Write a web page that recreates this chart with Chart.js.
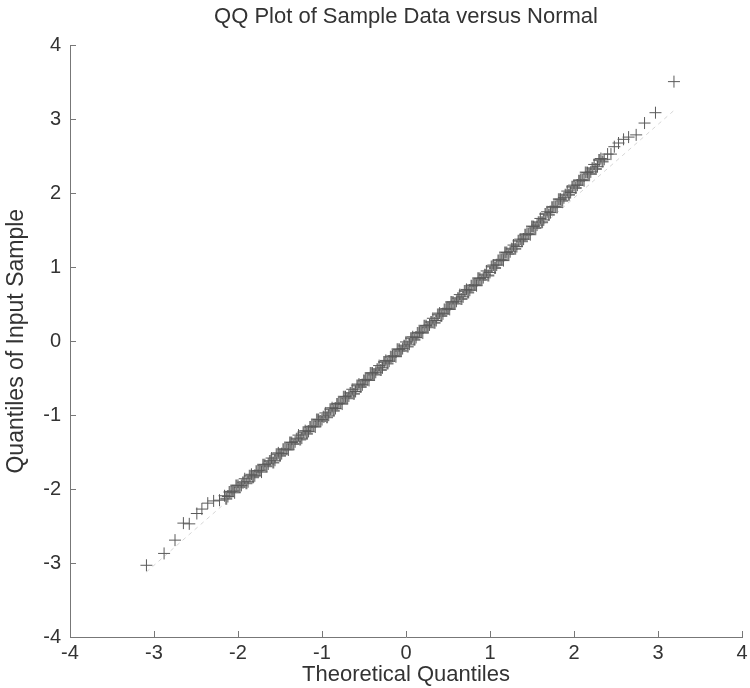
<!DOCTYPE html>
<html>
<head>
<meta charset="utf-8">
<script src="https://cdn.jsdelivr.net/npm/chart.js@4.4.1/dist/chart.umd.min.js"></script>
<style>
  body { margin: 0; background: #fff; }
  #qq { display: block; }
</style>
</head>
<body>
<canvas id="qq" width="750" height="688"></canvas>
<script>
// theoretical quantiles (x) and sample quantiles (y)
const theoX = [
  -3.09, -2.88, -2.75, -2.65, -2.58, -2.49, -2.43, -2.36, -2.29, -2.22,
  -2.16, -2.12, -2.08, -2.04, -2.00, -1.96, -1.92, -1.88, -1.84, -1.80,
  -1.76, -1.72, -1.68, -1.64, -1.60, -1.56, -1.52, -1.48, -1.44, -1.40,
  -1.36, -1.32, -1.28, -1.24, -1.20, -1.16, -1.12, -1.08, -1.04, -1.00,
  -0.96, -0.92, -0.88, -0.84, -0.80, -0.76, -0.72, -0.68, -0.64, -0.60,
  -0.56, -0.52, -0.48, -0.44, -0.40, -0.36, -0.32, -0.28, -0.24, -0.20,
  -0.16, -0.12, -0.08, -0.04, 0.00, 0.04, 0.08, 0.12, 0.16, 0.20,
  0.24, 0.28, 0.32, 0.36, 0.40, 0.44, 0.48, 0.52, 0.56, 0.60,
  0.64, 0.68, 0.72, 0.76, 0.80, 0.84, 0.88, 0.92, 0.96, 1.00,
  1.04, 1.08, 1.12, 1.16, 1.20, 1.24, 1.28, 1.32, 1.36, 1.40,
  1.44, 1.48, 1.52, 1.56, 1.60, 1.64, 1.68, 1.72, 1.76, 1.80,
  1.84, 1.88, 1.92, 1.96, 2.00, 2.04, 2.08, 2.12, 2.16, 2.20,
  2.24, 2.28, 2.32, 2.36, 2.40, 2.44, 2.48, 2.53, 2.59, 2.65,
  2.74, 2.84, 2.97, 3.19
];
const sampleY = [
  -3.03, -2.87, -2.69, -2.46, -2.47, -2.33, -2.27, -2.19, -2.16, -2.15,
  -2.09, -2.10, -2.03, -2.05, -1.95, -1.95, -1.86, -1.90, -1.80, -1.82,
  -1.75, -1.77, -1.67, -1.66, -1.58, -1.61, -1.51, -1.52, -1.46, -1.47,
  -1.37, -1.36, -1.27, -1.31, -1.21, -1.22, -1.15, -1.16, -1.06, -1.06,
  -0.97, -1.00, -0.90, -0.91, -0.84, -0.85, -0.75, -0.74, -0.65, -0.68,
  -0.58, -0.59, -0.52, -0.53, -0.43, -0.42, -0.33, -0.36, -0.26, -0.27,
  -0.20, -0.21, -0.11, -0.10, -0.01, -0.04, 0.06, 0.05, 0.12, 0.11,
  0.21, 0.22, 0.31, 0.28, 0.38, 0.37, 0.44, 0.43, 0.53, 0.54,
  0.63, 0.60, 0.70, 0.69, 0.76, 0.75, 0.85, 0.86, 0.95, 0.93,
  1.03, 1.03, 1.10, 1.09, 1.20, 1.21, 1.30, 1.28, 1.38, 1.38,
  1.45, 1.44, 1.55, 1.57, 1.66, 1.64, 1.75, 1.74, 1.82, 1.81,
  1.92, 1.94, 2.03, 2.01, 2.11, 2.11, 2.18, 2.17, 2.28, 2.29,
  2.39, 2.36, 2.47, 2.46, 2.53, 2.53, 2.63, 2.68, 2.73, 2.76,
  2.79, 2.95, 3.09, 3.51
];
// the dense middle of the sample has more points in between
const theoX2 = [
  -2.14, -2.10, -2.06, -2.02, -1.98, -1.94, -1.90, -1.86, -1.82, -1.78,
  -1.74, -1.70, -1.66, -1.62, -1.58, -1.54, -1.50, -1.46, -1.42, -1.38,
  -1.34, -1.30, -1.26, -1.22, -1.18, -1.14, -1.10, -1.06, -1.02, -0.98,
  -0.94, -0.90, -0.86, -0.82, -0.78, -0.74, -0.70, -0.66, -0.62, -0.58,
  -0.54, -0.50, -0.46, -0.42, -0.38, -0.34, -0.30, -0.26, -0.22, -0.18,
  -0.14, -0.10, -0.06, -0.02, 0.02, 0.06, 0.10, 0.14, 0.18, 0.22,
  0.26, 0.30, 0.34, 0.38, 0.42, 0.46, 0.50, 0.54, 0.58, 0.62,
  0.66, 0.70, 0.74, 0.78, 0.82, 0.86, 0.90, 0.94, 0.98, 1.02,
  1.06, 1.10, 1.14, 1.18, 1.22, 1.26, 1.30, 1.34, 1.38, 1.42,
  1.46, 1.50, 1.54, 1.58, 1.62, 1.66, 1.70, 1.74, 1.78, 1.82,
  1.86, 1.90, 1.94, 1.98, 2.02, 2.06, 2.10, 2.14, 2.18, 2.22,
  2.26, 2.30, 2.34
];
const sampleY2 = [
  -2.13, -2.04, -2.03, -1.95, -1.97, -1.91, -1.92, -1.82, -1.84, -1.76,
  -1.75, -1.67, -1.69, -1.62, -1.64, -1.53, -1.55, -1.46, -1.46, -1.37,
  -1.39, -1.32, -1.33, -1.23, -1.25, -1.16, -1.15, -1.06, -1.08, -1.02,
  -1.03, -0.92, -0.94, -0.85, -0.84, -0.75, -0.77, -0.70, -0.71, -0.60,
  -0.62, -0.53, -0.52, -0.43, -0.45, -0.38, -0.39, -0.28, -0.30, -0.21,
  -0.20, -0.11, -0.13, -0.06, -0.07, 0.04, 0.02, 0.11, 0.12, 0.21,
  0.19, 0.26, 0.25, 0.36, 0.34, 0.43, 0.44, 0.53, 0.51, 0.58,
  0.57, 0.68, 0.66, 0.75, 0.76, 0.85, 0.83, 0.90, 0.89, 1.01,
  0.99, 1.09, 1.10, 1.20, 1.18, 1.25, 1.25, 1.36, 1.35, 1.44,
  1.45, 1.55, 1.53, 1.61, 1.61, 1.72, 1.71, 1.81, 1.82, 1.92,
  1.90, 1.98, 1.98, 2.09, 2.07, 2.17, 2.18, 2.28, 2.26, 2.34,
  2.33, 2.45, 2.43
];
// dashed reference line endpoints
const refX = [-3.09, 3.19];
const refY = [-3.12, 3.12];
const axisTicks = [-4, -3, -2, -1, 0, 1, 2, 3, 4];

const points = theoX.map((x, i) => ({ x: x, y: sampleY[i] }));
const densePoints = theoX2.map((x, i) => ({ x: x, y: sampleY2[i] }));
const refLine = refX.map((x, i) => ({ x: x, y: refY[i] }));

const FONT = "'Liberation Sans', Arial, sans-serif";
const INK = "#333";

// matlab style: ticks point into the plot
const innerTicks = {
  id: "innerTicks",
  afterDraw(chart) {
    const { ctx, chartArea, scales } = chart;
    ctx.save();
    ctx.strokeStyle = "#777";
    ctx.lineWidth = 1;
    ctx.beginPath();
    scales.x.ticks.forEach(t => {
      const px = Math.round(scales.x.getPixelForValue(t.value)) + 0.5;
      ctx.moveTo(px, chartArea.bottom);
      ctx.lineTo(px, chartArea.bottom - 6);
    });
    scales.y.ticks.forEach(t => {
      const py = Math.round(scales.y.getPixelForValue(t.value)) + 0.5;
      ctx.moveTo(chartArea.left, py);
      ctx.lineTo(chartArea.left + 6, py);
    });
    ctx.stroke();
    ctx.restore();
  }
};

const ctx = document.getElementById("qq").getContext("2d");
new Chart(ctx, {
  type: "scatter",
  data: {
    datasets: [
      {
        data: points,
        showLine: false,
        pointStyle: "cross",
        pointRadius: 6,
        pointBorderWidth: 1,
        borderColor: "#5a5a5a",
        backgroundColor: "#5a5a5a",
        order: 1
      },
      {
        data: densePoints,
        showLine: false,
        pointStyle: "cross",
        pointRadius: 6,
        pointBorderWidth: 2,
        borderColor: "#7c7c7c",
        backgroundColor: "#7c7c7c",
        order: 2
      },
      {
        type: "line",
        data: refLine,
        borderColor: "#d6d6d6",
        borderWidth: 1,
        borderDash: [4, 4],
        pointRadius: 0,
        fill: false,
        order: 3
      }
    ]
  },
  options: {
    responsive: false,
    animation: false,
    layout: { padding: { left: 0, right: 4, top: 0, bottom: 0 } },
    plugins: {
      legend: { display: false },
      tooltip: { enabled: false },
      title: {
        display: true,
        text: "QQ Plot of Sample Data versus Normal",
        fullSize: false,
        color: INK,
        font: { family: FONT, size: 22, weight: "normal" },
        padding: { top: 4, bottom: 15 }
      }
    },
    scales: {
      x: {
        type: "linear",
        min: -4,
        max: 4,
        afterBuildTicks: s => { s.ticks = axisTicks.map(v => ({ value: v })); },
        afterFit: s => { s.height = 51; s.paddingRight = 0; },
        grid: { display: false, drawTicks: false },
        border: { display: true, color: "#777", width: 1 },
        ticks: {
          color: INK,
          padding: 4,
          maxRotation: 0,
          font: { family: FONT, size: 20 }
        },
        title: {
          display: true,
          text: "Theoretical Quantiles",
          color: INK,
          font: { family: FONT, size: 22 },
          padding: { top: 0, bottom: 0 }
        }
      },
      y: {
        type: "linear",
        min: -4,
        max: 4,
        afterBuildTicks: s => { s.ticks = axisTicks.map(v => ({ value: v })); },
        afterFit: s => { s.width = 70; },
        grid: { display: false, drawTicks: false },
        border: { display: true, color: "#777", width: 1 },
        ticks: {
          color: INK,
          padding: 9,
          font: { family: FONT, size: 20 }
        },
        title: {
          display: true,
          text: "Quantiles of Input Sample",
          color: INK,
          font: { family: FONT, size: 23 },
          padding: { top: 3, bottom: 0 }
        }
      }
    }
  },
  plugins: [innerTicks]
});
</script>
</body>
</html>
